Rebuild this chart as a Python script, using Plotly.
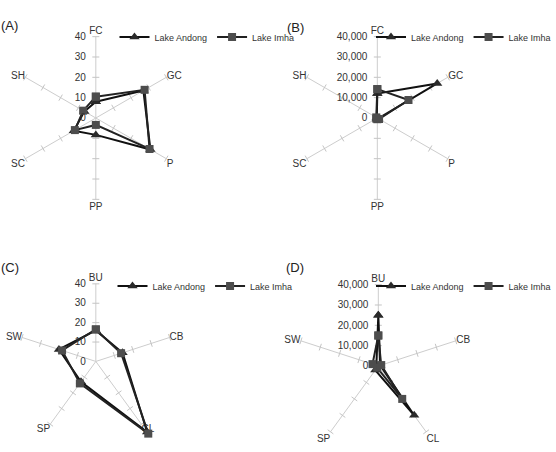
import math
import plotly.graph_objects as go

# ---------------- data ----------------
cats_ab = ["FC", "GC", "P", "PP", "SC", "SH"]
cats_cd = ["BU", "CB", "CL", "SP", "SW"]

a_andong = [8, 27, 31, 8.3, 12.5, 6.5]
a_imha = [10.5, 27.7, 30.5, 3.4, 11.9, 7.2]

b_andong = [12000, 34000, 500, 300, 300, 300]
b_imha = [14200, 17700, 1000, 600, 600, 600]

c_andong = [16, 14.5, 45, 13, 20]
c_imha = [16.5, 13.7, 46, 14, 18.3]

d_andong = [25000, 1000, 30000, 2500, 1000]
d_imha = [15000, 1500, 20000, 1000, 3000]

ticks_small = [0, 10, 20, 30, 40]
ticks_large = [0, 10000, 20000, 30000, 40000]

series_names = ["Lake Andong", "Lake Imha"]
panel_labels = ["(A)", "(B)", "(C)", "(D)"]

# ---------------- styling ----------------
W, H = 556, 452
R = 81.5
FONT = "Liberation Sans, Arial, Helvetica, sans-serif"
SPOKE = "#cdcdcd"
TXT = "#333333"

panels = [
    dict(cats=cats_ab, s1=a_andong, s2=a_imha, ticks=ticks_small, fmt="", c=(96, 118),
         lab=(10, 26), leg=(207, 37, "center")),
    dict(cats=cats_ab, s1=b_andong, s2=b_imha, ticks=ticks_large, fmt=",", c=(378, 118),
         lab=(296, 27), leg=(557, 37, "right")),
    dict(cats=cats_cd, s1=c_andong, s2=c_imha, ticks=ticks_small, fmt="", c=(96, 366),
         lab=(10, 267), leg=(205, 286, "center")),
    dict(cats=cats_cd, s1=d_andong, s2=d_imha, ticks=ticks_large, fmt=",", c=(379, 366),
         lab=(296, 267), leg=(557, 286, "right")),
]


def clamp(v):
    return min(1.0, max(0.0, v))


fig = go.Figure()
layout = dict(
    template="none",
    width=W, height=H,
    margin=dict(l=0, r=0, t=0, b=0),
    paper_bgcolor="white",
    plot_bgcolor="white",
    font=dict(family=FONT, size=10, color=TXT),
    annotations=[],
)

for i, p in enumerate(panels):
    sp = "polar" if i == 0 else f"polar{i + 1}"
    lg = "legend" if i == 0 else f"legend{i + 1}"
    cats = p["cats"]
    n = len(cats)
    ticks = p["ticks"]
    tmax = ticks[-1]
    dmax = max(max(p["s1"]), max(p["s2"]))
    extended = dmax > tmax
    rng = max(tmax, dmax * 1.015)
    angles = [90 - k * 360.0 / n for k in range(n)]

    if extended:
        # spokes only up to the last tick value, like the original
        sr, st = [], []
        for cat in cats:
            sr += [0, tmax, None]
            st += [cat, cat, None]
        fig.add_trace(go.Scatterpolar(
            r=sr, theta=st, mode="lines", subplot=sp, showlegend=False,
            hoverinfo="skip", line=dict(color=SPOKE, width=1),
        ))
        pos = []
        for a in angles:
            c, s = math.cos(math.radians(a)), math.sin(math.radians(a))
            v = "top" if s > 0.7 else ("bottom" if s < -0.5 else "middle")
            h = "center" if abs(c) < 0.2 else ("right" if c > 0 else "left")
            pos.append(f"{v} {h}")
        fig.add_trace(go.Scatterpolar(
            r=[tmax] * n, theta=cats, mode="text", text=cats, textposition=pos,
            subplot=sp, showlegend=False, hoverinfo="skip", cliponaxis=False,
            textfont=dict(size=10, color=TXT, family=FONT),
        ))

    # tick marks along every spoke (from the tick values)
    tr_r, tr_t, tr_a = [], [], []
    for k, cat in enumerate(cats):
        for tv in ticks[1:]:
            tr_r.append(tv)
            tr_t.append(cat)
            tr_a.append(-(angles[k] + 90))
    fig.add_trace(go.Scatterpolar(
        r=tr_r, theta=tr_t, mode="markers", subplot=sp, showlegend=False,
        hoverinfo="skip", cliponaxis=False,
        marker=dict(symbol="line-ew", size=5, angle=tr_a,
                    line=dict(color="#c4c4c4", width=1)),
    ))

    # series (closed polygons)
    for s, vals, sym, mcol, lcol, msize in [
        (0, p["s1"], "triangle-up", "#2a2a2a", "#111111", 9),
        (1, p["s2"], "square", "#4d4d4d", "#222222", 8),
    ]:
        fig.add_trace(go.Scatterpolar(
            r=list(vals) + [vals[0]], theta=list(cats) + [cats[0]],
            mode="lines+markers", name=series_names[s], subplot=sp, legend=lg,
            cliponaxis=False,
            line=dict(color=lcol, width=2),
            marker=dict(symbol=sym, size=msize, color=mcol),
        ))

    cx, cy = p["c"]
    Rd = R * rng / tmax
    layout[sp] = dict(
        domain=dict(x=[clamp((cx - Rd) / W), clamp((cx + Rd) / W)],
                    y=[clamp((H - cy - Rd) / H), clamp((H - cy + Rd) / H)]),
        bgcolor="white",
        angularaxis=dict(
            categoryarray=cats, type="category", direction="clockwise", rotation=90,
            showline=False, showgrid=not extended, gridcolor=SPOKE, gridwidth=1, ticks="",
            showticklabels=not extended,
            tickfont=dict(size=10, color=TXT, family=FONT),
        ),
        radialaxis=dict(
            range=[0, rng], tickvals=ticks, tickformat=p["fmt"], angle=90,
            side="counterclockwise", showline=False, showgrid=False,
            ticks="outside", ticklen=6, tickcolor="rgba(0,0,0,0)",
            tickangle=90,
            tickfont=dict(size=10, color=TXT, family=FONT),
        ),
    )

    lx, ly, anc = p["leg"]
    layout[lg] = dict(
        orientation="h", x=lx / W, y=1 - ly / H, xanchor=anc, yanchor="middle",
        font=dict(size=9, color=TXT, family=FONT), bgcolor="rgba(0,0,0,0)",
        itemwidth=30,
    )

    ax, ay = p["lab"]
    layout["annotations"].append(dict(
        text=panel_labels[i], x=ax / W, y=1 - ay / H, xref="paper", yref="paper",
        showarrow=False, xanchor="center", yanchor="middle",
        font=dict(size=13, color="#222222", family=FONT),
    ))

fig.update_layout(**layout)
fig.write_html("out.html")
